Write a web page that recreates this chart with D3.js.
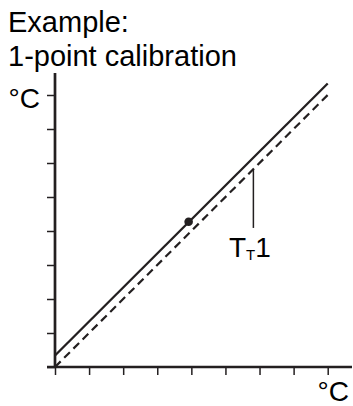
<!DOCTYPE html>
<html>
<head>
<meta charset="utf-8">
<script src="https://cdn.jsdelivr.net/npm/d3@7"></script>
<style>
  html, body { margin: 0; padding: 0; background: #fff; }
  svg { display: block; font-family: "Liberation Sans", Arial, sans-serif; }
</style>
</head>
<body>
<svg id="chart" width="353" height="406"></svg>
<script>
// ---- data ----
const titleLines = ["Example:", "1-point calibration"];
const xTicks = [0, 1, 2, 3, 4, 5, 6, 7, 8];
const yTicks = [0, 1, 2, 3, 4, 5, 6, 7, 8];
const axisUnit = "°C";
const idealLine = [[0, 0], [8, 8]];          // dashed reference
const calibratedLine = [[0, 0.34], [8, 8.34]]; // solid, offset after 1-point calibration
const calPoint = [3.92, 4.27];
const leader = [[5.82, 5.82], [5.82, 4.09]];
const labelMain = "T", labelSub = "T", labelTail = "1";

// ---- layout ----
const svg = d3.select("#chart");
const ink = "#231f20";
const x = d3.scaleLinear().domain([0, 8]).range([55, 327.7]);
const y = d3.scaleLinear().domain([0, 8]).range([367, 95]);

// title
svg.append("text").attr("x", 8).attr("y", 32).attr("font-size", 29).attr("fill", "#000").text(titleLines[0]);
svg.append("text").attr("x", 8).attr("y", 66).attr("font-size", 29).attr("fill", "#000").text(titleLines[1]);

// y axis
const yAxis = d3.axisLeft(y).tickValues(yTicks).tickSize(8).tickFormat("");
const gy = svg.append("g").attr("transform", `translate(${x(0)},0)`).call(yAxis);
gy.select(".domain").remove();
gy.selectAll(".tick line").attr("stroke", ink).attr("stroke-width", 1.5);
svg.append("line").attr("x1", x(0)).attr("x2", x(0)).attr("y1", 73).attr("y2", y(0) + 1)
  .attr("stroke", ink).attr("stroke-width", 2.7);

// x axis
const xAxis = d3.axisBottom(x).tickValues(xTicks).tickSize(8).tickFormat("");
const gx = svg.append("g").attr("transform", `translate(0,${y(0)})`).call(xAxis);
gx.select(".domain").remove();
gx.selectAll(".tick line").attr("stroke", ink).attr("stroke-width", 1.5);
svg.append("line").attr("x1", 47).attr("x2", 352).attr("y1", y(0)).attr("y2", y(0))
  .attr("stroke", ink).attr("stroke-width", 2.7);

// axis unit labels
svg.append("text").attr("x", 40).attr("y", 108).attr("text-anchor", "end")
  .attr("font-size", 28).attr("fill", "#000").text(axisUnit);
svg.append("text").attr("x", 349).attr("y", 401).attr("text-anchor", "end")
  .attr("font-size", 28).attr("fill", "#000").text(axisUnit);

const line = d3.line().x(d => x(d[0])).y(d => y(d[1]));

// dashed ideal line
svg.append("path").datum(idealLine).attr("d", line).attr("fill", "none")
  .attr("stroke", ink).attr("stroke-width", 2.2).attr("stroke-dasharray", "8,5");

// solid calibrated line
svg.append("path").datum(calibratedLine).attr("d", line).attr("fill", "none")
  .attr("stroke", ink).attr("stroke-width", 2.3);

// calibration point
svg.append("circle").attr("cx", x(calPoint[0])).attr("cy", y(calPoint[1])).attr("r", 4.3).attr("fill", ink);

// leader line
svg.append("path").datum(leader).attr("d", line).attr("fill", "none")
  .attr("stroke", ink).attr("stroke-width", 1.5);

// label T_T1
const lbl = svg.append("text").attr("x", 229).attr("y", 257).attr("font-size", 28).attr("fill", "#000");
lbl.append("tspan").text(labelMain);
lbl.append("tspan").attr("font-size", 15).attr("dy", 3).text(labelSub);
lbl.append("tspan").attr("dy", -3).text(labelTail);
</script>
</body>
</html>
